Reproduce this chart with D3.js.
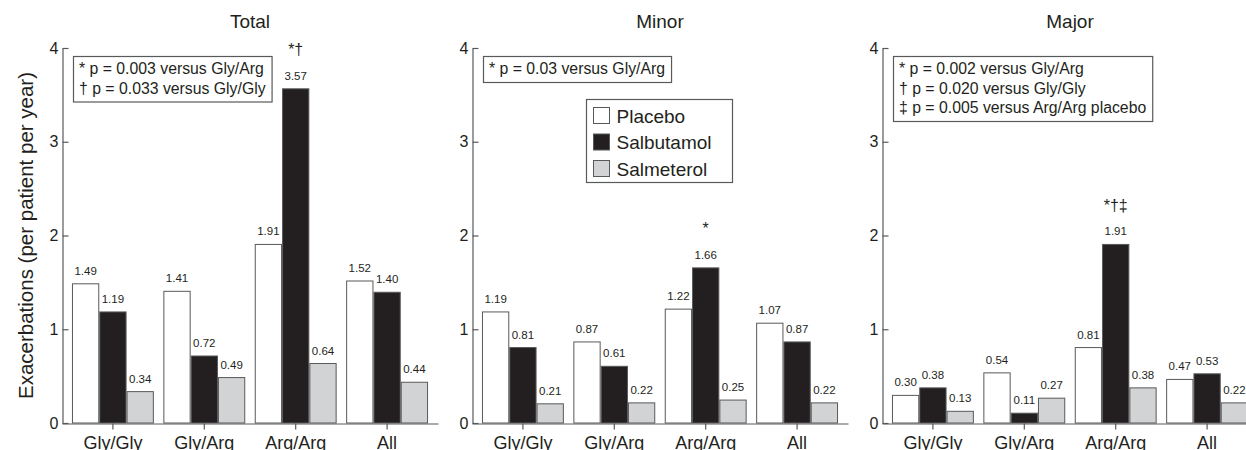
<!DOCTYPE html>
<html>
<head>
<meta charset="utf-8">
<script src="https://cdn.jsdelivr.net/npm/d3@7"></script>
<style>
  html, body { margin: 0; padding: 0; background: #fff; }
  svg { display: block; font-family: "Liberation Sans", Arial, sans-serif; }
</style>
</head>
<body>
<svg id="chart" width="1246" height="450"></svg>
<script>
/* data */
const categories = ['Gly/Gly', 'Gly/Arg', 'Arg/Arg', 'All'];
const series = ['Placebo', 'Salbutamol', 'Salmeterol'];
const panelTitles = ['Total', 'Minor', 'Major'];

const totalPlacebo = [1.49, 1.41, 1.91, 1.52];
const totalSalbutamol = [1.19, 0.72, 3.57, 1.40];
const totalSalmeterol = [0.34, 0.49, 0.64, 0.44];

const minorPlacebo = [1.19, 0.87, 1.22, 1.07];
const minorSalbutamol = [0.81, 0.61, 1.66, 0.87];
const minorSalmeterol = [0.21, 0.22, 0.25, 0.22];

const majorPlacebo = [0.30, 0.54, 0.81, 0.47];
const majorSalbutamol = [0.38, 0.11, 1.91, 0.53];
const majorSalmeterol = [0.13, 0.27, 0.38, 0.22];

const totalNotes = ['* p = 0.003 versus Gly/Arg', '\u2020 p = 0.033 versus Gly/Gly'];
const minorNotes = ['* p = 0.03 versus Gly/Arg'];
const majorNotes = ['* p = 0.002 versus Gly/Arg', '\u2020 p = 0.020 versus Gly/Gly', '\u2021 p = 0.005 versus Arg/Arg placebo'];

/* significance marks sit over the salbutamol bar of one category */
const totalMark = { category: 'Arg/Arg', text: '*\u2020' };
const minorMark = { category: 'Arg/Arg', text: '*' };
const majorMark = { category: 'Arg/Arg', text: '*\u2020\u2021' };

const yTicks = [0, 1, 2, 3, 4];
const yLabel = 'Exacerbations (per patient per year)';

const panels = [
  { title: panelTitles[0], values: [totalPlacebo, totalSalbutamol, totalSalmeterol], notes: totalNotes, mark: totalMark },
  { title: panelTitles[1], values: [minorPlacebo, minorSalbutamol, minorSalmeterol], notes: minorNotes, mark: minorMark },
  { title: panelTitles[2], values: [majorPlacebo, majorSalbutamol, majorSalmeterol], notes: majorNotes, mark: majorMark }
];

/* layout */
const ink = '#231f20';
const edge = '#58595b';
const fills = { Placebo: '#ffffff', Salbutamol: '#231f20', Salmeterol: '#d1d3d4' };
const panelLeft = [62, 472, 882];
const axisLen = 376;
const plotTop = 48, plotBottom = 423;

const svg = d3.select('#chart');

const y = d3.scaleLinear().domain([0, 4]).range([plotBottom, plotTop]);

/* y axis label on the far left */
svg.append('text')
    .attr('transform', `translate(33, ${(plotTop + plotBottom) / 2}) rotate(-90)`)
    .attr('text-anchor', 'middle')
    .attr('font-size', 20.5)
    .attr('fill', ink)
    .text(yLabel);

panels.forEach((p, i) => {
    const x0 = panelLeft[i];
    const x = d3.scaleBand().domain(categories)
                .range([x0, x0 + axisLen])
                .paddingInner(0.104).paddingOuter(0.109);
    const xs = d3.scaleBand().domain(series).range([0, x.bandwidth()]);

    const g = svg.append('g');

    /* title */
    g.append('text')
        .attr('x', x0 + axisLen / 2).attr('y', 28)
        .attr('text-anchor', 'middle')
        .attr('font-size', 19)
        .attr('fill', ink)
        .text(p.title);

    /* bars */
    const rows = [];
    categories.forEach((c, ci) => {
        series.forEach((s, si) => rows.push({ c, s, v: p.values[si][ci] }));
    });

    g.selectAll('rect.bar').data(rows).join('rect')
        .attr('class', 'bar')
        .attr('x', d => x(d.c) + xs(d.s) + 0.5)
        .attr('y', d => y(d.v) + 0.5)
        .attr('width', xs.bandwidth() - 1)
        .attr('height', d => y(0) - y(d.v) - 0.5)
        .attr('fill', d => fills[d.s])
        .attr('stroke', edge)
        .attr('stroke-width', 1);

    g.selectAll('text.val').data(rows).join('text')
        .attr('class', 'val')
        .attr('x', d => x(d.c) + xs(d.s) + xs.bandwidth() / 2)
        .attr('y', d => y(d.v) - 8.5)
        .attr('text-anchor', 'middle')
        .attr('font-size', 11.5)
        .attr('fill', ink)
        .text(d => d.v.toFixed(2));

    /* significance mark */
    const mc = p.mark.category;
    const mv = p.values[1][categories.indexOf(mc)];
    g.append('text')
        .attr('x', x(mc) + xs('Salbutamol') + xs.bandwidth() / 2)
        .attr('y', y(mv) - 33)
        .attr('text-anchor', 'middle')
        .attr('font-size', 16)
        .attr('fill', ink)
        .text(p.mark.text);

    /* axes */
    const yAxis = d3.axisLeft(y).tickValues(yTicks).tickFormat(d3.format('d'))
                    .tickSize(-6).tickSizeOuter(0).tickPadding(4);
    const ya = g.append('g').attr('transform', `translate(${x0 + 0.5},0)`).call(yAxis);
    ya.selectAll('text').attr('font-size', 16).attr('fill', ink).attr('font-family', null);

    const xAxis = d3.axisBottom(x).tickSize(6).tickSizeOuter(0);
    const xa = g.append('g').attr('transform', `translate(0,${plotBottom + 0.5})`).call(xAxis);
    xa.selectAll('text').attr('font-size', 18).attr('fill', ink)
        .attr('font-family', null).attr('y', 13);

    [ya, xa].forEach(a => {
        a.selectAll('path, line').attr('stroke', edge).attr('stroke-width', 1.2);
    });

    /* note box */
    const nb = g.append('g');
    const nt = nb.selectAll('text').data(p.notes).join('text')
        .attr('x', x0 + 17)
        .attr('y', (d, k) => 74 + k * 19.5)
        .attr('font-size', 15.8)
        .attr('fill', ink)
        .text(d => d);
    let w = 0;
    nt.each(function () { w = Math.max(w, this.getComputedTextLength()); });
    nb.insert('rect', 'text')
        .attr('x', x0 + 11.5).attr('y', 56.5)
        .attr('width', w + 12)
        .attr('height', 26 + (p.notes.length - 1) * 19.5)
        .attr('fill', '#fff')
        .attr('stroke', edge)
        .attr('stroke-width', 1.2);
});

/* legend in the middle panel */
const lg = svg.append('g').attr('transform', 'translate(586.5,99.5)');
lg.append('rect')
    .attr('width', 146).attr('height', 83)
    .attr('fill', '#fff').attr('stroke', edge).attr('stroke-width', 1.2);
const items = lg.selectAll('g.item').data(series).join('g')
    .attr('class', 'item')
    .attr('transform', (d, k) => `translate(0,${16 + k * 26.5})`);
items.append('rect')
    .attr('x', 7).attr('y', -8).attr('width', 16).attr('height', 16)
    .attr('fill', d => fills[d]).attr('stroke', edge).attr('stroke-width', 1);
items.append('text')
    .attr('x', 30).attr('y', 7)
    .attr('font-size', 19)
    .attr('fill', ink)
    .text(d => d);
</script>
</body>
</html>
